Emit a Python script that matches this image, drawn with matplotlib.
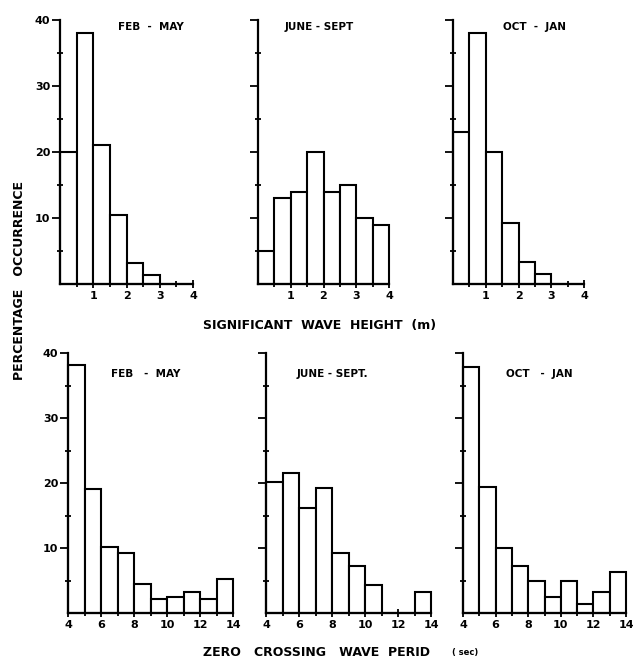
import matplotlib
matplotlib.use('Agg')
import matplotlib.pyplot as plt
import numpy as np

# significant wave height histograms (bin width 0.5 m)
hs_bins = [0.0, 0.5, 1.0, 1.5, 2.0, 2.5, 3.0, 3.5]
hs_feb_may = [20, 38, 21, 10.4, 3.2, 1.4, 0, 0]
hs_jun_sep = [5, 13, 14, 20, 14, 15, 10, 9]
hs_oct_jan = [23, 38, 20, 9.3, 3.4, 1.5, 0, 0]

# zero crossing wave period histograms (bin width 1 s)
tz_bins = [4, 5, 6, 7, 8, 9, 10, 11, 12, 13]
tz_feb_may = [38.2, 19.1, 10.2, 9.2, 4.4, 2.2, 2.4, 3.3, 2.2, 5.3]
tz_jun_sep = [20.1, 21.6, 16.2, 19.3, 9.2, 7.3, 4.3, 0, 0, 3.3]
tz_oct_jan = [37.9, 19.4, 10.0, 7.3, 4.9, 2.4, 4.9, 1.4, 3.3, 6.3]

titles_top = ['FEB  -  MAY', 'JUNE - SEPT', 'OCT  -  JAN']
titles_bot = ['FEB   -  MAY', 'JUNE - SEPT.', 'OCT   -  JAN']

W, H = 633, 659
fig = plt.figure(figsize=(W / 100, H / 100), dpi=100)
fig.patch.set_facecolor('white')


def px_axes(x0, x1, ytop, ybot):
    return fig.add_axes([x0 / W, 1 - ybot / H, (x1 - x0) / W, (ybot - ytop) / H])


def style(ax, xlim, xmajor, xminor, show_ylabels):
    ax.set_xlim(*xlim)
    ax.set_ylim(0, 40)
    for s in ['top', 'right']:
        ax.spines[s].set_visible(False)
    for s in ['left', 'bottom']:
        ax.spines[s].set_linewidth(1.6)
    ax.set_xticks(xmajor)
    ax.set_xticks(xminor, minor=True)
    ax.set_yticks([10, 20, 30, 40])
    ax.set_yticks([5, 15, 25, 35], minor=True)
    ax.tick_params(axis='both', which='both', direction='inout', width=1.3,
                   labelsize=8, pad=2)
    ax.tick_params(axis='both', which='major', length=6)
    ax.tick_params(axis='both', which='minor', length=4)
    ax.tick_params(axis='y', direction='out', pad=1)
    for lab in ax.get_xticklabels() + ax.get_yticklabels():
        lab.set_fontweight('bold')
    if not show_ylabels:
        ax.set_yticklabels([])


top_pos = [(60, 193), (258, 389), (453, 584)]
top_data = [hs_feb_may, hs_jun_sep, hs_oct_jan]
top_title_x = [0.68, 0.47, 0.62]
for i, ((x0, x1), vals) in enumerate(zip(top_pos, top_data)):
    ax = px_axes(x0, x1, 20, 284)
    bars = ax.bar(hs_bins, vals, width=0.5, align='edge', facecolor='white',
                  edgecolor='black', linewidth=1.5)
    for b in bars:
        b.set_clip_on(False)
    style(ax, (0, 4), [1, 2, 3, 4], [0.5, 1.5, 2.5, 3.5], i == 0)
    ax.text(top_title_x[i], 0.975, titles_top[i], transform=ax.transAxes,
            ha='center', va='center', fontsize=7.5, fontweight='bold')

bot_pos = [(68, 233), (266, 431), (463, 626)]
bot_data = [tz_feb_may, tz_jun_sep, tz_oct_jan]
bot_title_x = [0.47, 0.40, 0.47]
for i, ((x0, x1), vals) in enumerate(zip(bot_pos, bot_data)):
    ax = px_axes(x0, x1, 353, 613)
    bars = ax.bar(tz_bins, vals, width=1, align='edge', facecolor='white',
                  edgecolor='black', linewidth=1.5)
    for b in bars:
        b.set_clip_on(False)
    style(ax, (4, 14), [4, 6, 8, 10, 12, 14], [5, 7, 9, 11, 13], i == 0)
    ax.text(bot_title_x[i], 0.92, titles_bot[i], transform=ax.transAxes,
            ha='center', va='center', fontsize=7.5, fontweight='bold')

fig.text(20 / W, 1 - 281 / H, 'PERCENTAGE   OCCURRENCE', rotation=90,
         ha='center', va='center', fontsize=9, fontweight='bold')
fig.text(320 / W, 1 - 325 / H, 'SIGNIFICANT  WAVE  HEIGHT  (m)',
         ha='center', va='center', fontsize=9, fontweight='bold')
fig.text(203 / W, 1 - 653 / H, 'ZERO   CROSSING   WAVE  PERID',
         ha='left', va='center', fontsize=9, fontweight='bold')
fig.text(452 / W, 1 - 653 / H, '( sec)',
         ha='left', va='center', fontsize=6, fontweight='bold')

plt.savefig('out.png', dpi=100)
